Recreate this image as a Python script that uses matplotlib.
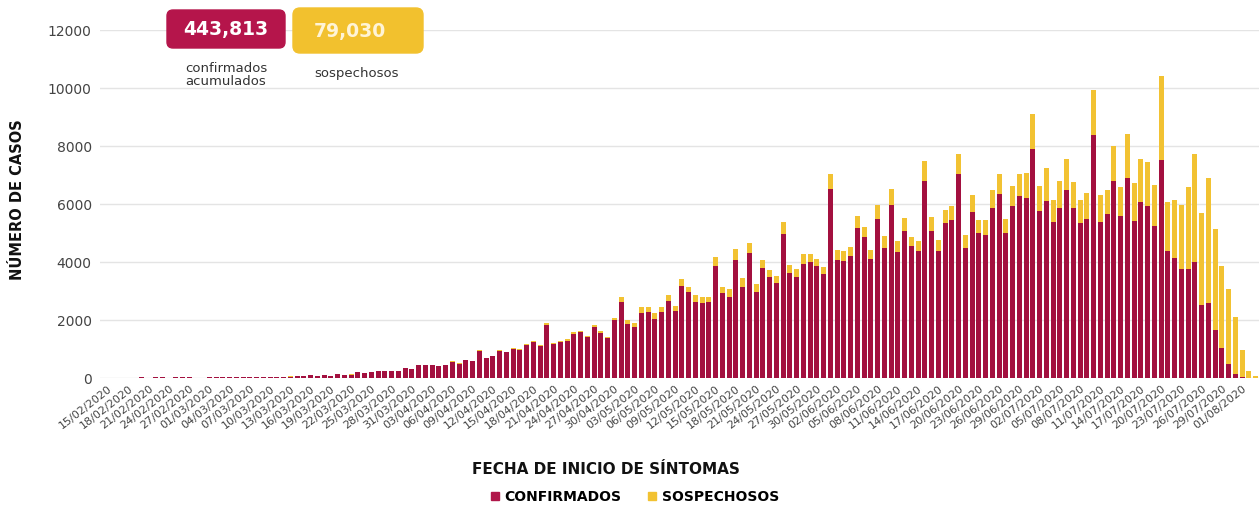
import matplotlib
matplotlib.use('Agg')
import matplotlib.pyplot as plt
import pandas as pd
from matplotlib.patches import FancyBboxPatch
from matplotlib.lines import Line2D

# daily cases by symptom onset date, 15/02/2020 .. 03/08/2020
fechas = pd.date_range('2020-02-15', '2020-08-03', freq='D')

confirmados = [
    # feb 15-29
    0, 0, 0, 0, 0, 25, 0, 30, 25, 0, 25, 30, 25, 0, 0,
    # mar
    25, 30, 25, 30, 25, 25, 30, 25, 30, 40, 35, 45, 50,
    60, 80, 90, 55, 100, 75, 150, 110, 120, 200, 180, 190, 230, 250, 230, 230, 330, 300,
    # apr
    440, 440, 440, 420, 440, 560, 500, 610, 575, 940, 690, 750, 940, 885, 1010,
    980, 1140, 1230, 1115, 1840, 1170, 1230, 1290, 1530, 1575, 1400, 1760, 1550, 1380, 1990,
    # may
    2610, 1850, 1770, 2250, 2260, 2020, 2260, 2650, 2320, 3180, 2950, 2630, 2570, 2610, 3860,
    2920, 2800, 4070, 3150, 4300, 2980, 3780, 3470, 3290, 4950, 3620, 3470, 3940, 4000, 3850, 3600,
    # jun
    6530, 4060, 4020, 4190, 5180, 4850, 4110, 5480, 4480, 5980, 4340, 5080, 4540, 4370, 6780,
    5080, 4370, 5360, 5440, 7050, 4470, 5730, 4990, 4930, 5870, 6340, 4990, 5940, 6270, 6190,
    # jul
    7910, 5750, 6110, 5390, 5870, 6500, 5870, 5330, 5470, 8390, 5370, 5660, 6780, 5600, 6900,
    5400, 6060, 5930, 5240, 7510, 4380, 4140, 3770, 3770, 4000, 2510, 2600, 1650, 1020, 480, 140,
    # aug
    46, 0, 0,
]

sospechosos = [
    # feb 15-29
    0, 0, 0, 0, 0, 0, 0, 0, 0, 0, 0, 0, 0, 0, 0,
    # mar
    0, 0, 0, 0, 0, 0, 0, 0, 0, 3, 2, 3, 3,
    3, 3, 4, 3, 4, 3, 5, 4, 4, 5, 5, 5, 5, 5, 5, 5, 5, 5,
    # apr
    5, 5, 5, 5, 5, 10, 10, 10, 10, 15, 10, 10, 15, 15, 20,
    15, 20, 40, 25, 60, 30, 45, 40, 50, 60, 40, 60, 60, 40, 80,
    # may
    170, 150, 140, 210, 200, 210, 200, 210, 175, 235, 200, 230, 235, 195, 300,
    205, 255, 365, 285, 365, 250, 285, 255, 225, 430, 290, 290, 345, 290, 250, 225,
    # jun
    515, 340, 345, 325, 390, 355, 315, 495, 425, 535, 395, 435, 320, 365, 690,
    470, 375, 430, 485, 690, 460, 575, 475, 515, 605, 710, 500, 670, 755, 890,
    # jul
    1180, 860, 1145, 740, 915, 1050, 890, 825, 915, 1545, 950, 840, 1230, 980, 1525,
    1325, 1490, 1505, 1430, 2905, 1680, 2015, 2210, 2810, 3735, 3185, 4300, 3475, 2840, 2600, 1970,
    # aug
    915, 229, 80,
]

total_confirmados = '443,813'
total_sospechosos = '79,030'

c_conf = '#A3103F'
c_sosp = '#F2C232'

fig = plt.figure(figsize=(12.59, 5.07), dpi=100)
ax = fig.add_axes([100 / 1259, 1 - 378 / 507, 1159 / 1259, 348 / 507])

x = list(range(len(fechas)))
ax.bar(x, confirmados, width=0.74, color=c_conf, zorder=3)
ax.bar(x, sospechosos, width=0.74, bottom=confirmados, color=c_sosp, zorder=3)

ax.set_xlim(-1.2, 170.5)
ax.set_ylim(0, 12000)
ax.set_yticks(range(0, 12001, 2000))
ax.yaxis.grid(True, color='#e4e4e4', linewidth=1, zorder=0)
ax.tick_params(axis='y', length=0, pad=6, labelsize=10, labelcolor='#444444')

ticks = x[::3][:57]
ax.set_xticks(ticks)
ax.set_xticklabels([fechas[i].strftime('%d/%m/%Y') for i in ticks],
                   rotation=38, ha='right', rotation_mode='anchor',
                   fontsize=8, color='#444444')
ax.tick_params(axis='x', length=0, pad=4)
for s in ax.spines.values():
    s.set_visible(False)

fig.text(18 / 1259, 1 - 200 / 507, 'NÚMERO DE CASOS', rotation=90,
         ha='center', va='center', fontsize=10.5, fontweight='bold', color='#111111')
fig.text(606 / 1259, 1 - 470 / 507, 'FECHA DE INICIO DE SÍNTOMAS',
         ha='center', va='center', fontsize=11, fontweight='bold', color='#111111')

handles = [Line2D([], [], marker='s', linestyle='', markersize=6, color='#B0174A'),
           Line2D([], [], marker='s', linestyle='', markersize=6, color=c_sosp)]
fig.legend(handles, ['CONFIRMADOS', 'SOSPECHOSOS'], loc='center',
           bbox_to_anchor=(634 / 1259, 1 - 497 / 507), ncol=2, frameon=False,
           handlelength=0.8, handletextpad=0.3, columnspacing=1.8,
           prop={'weight': 'bold', 'size': 10})

# summary boxes (pixel coords)
fig.add_artist(FancyBboxPatch((167, 507 - 48), 118, 38,
                              boxstyle='round,pad=0,rounding_size=6',
                              transform=None, color='#B5154B', zorder=5))
fig.add_artist(FancyBboxPatch((293, 507 - 53), 130, 45,
                              boxstyle='round,pad=0,rounding_size=7',
                              transform=None, color='#F2C12E', zorder=5))
fig.text(226 / 1259, 1 - 29 / 507, total_confirmados, ha='center', va='center',
         fontsize=13.5, fontweight='bold', color='white', zorder=6)
fig.text(350 / 1259, 1 - 31 / 507, total_sospechosos, ha='center', va='center',
         fontsize=13.5, fontweight='bold', color='#FFF4D6', zorder=6)
fig.text(226 / 1259, 1 - 75 / 507, 'confirmados\nacumulados', ha='center', va='center',
         fontsize=9.5, color='#333333', linespacing=1.0)
fig.text(357 / 1259, 1 - 73 / 507, 'sospechosos', ha='center', va='center',
         fontsize=9.5, color='#333333')

fig.savefig('out.png', dpi=100)
